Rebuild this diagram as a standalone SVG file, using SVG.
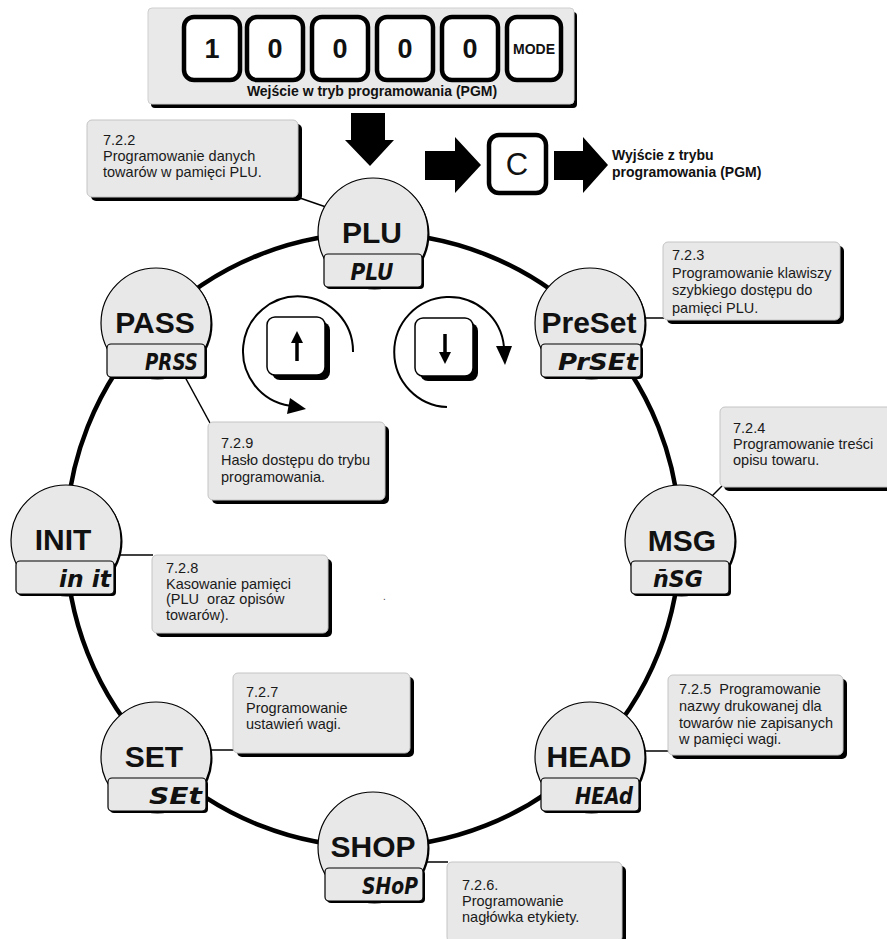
<svg xmlns="http://www.w3.org/2000/svg" width="887" height="939" viewBox="0 0 887 939">
<style>
.box{fill:#e8e8e8;stroke:#c4c4c4;stroke-width:1}
.sh{fill:#000}
.t{font-family:"Liberation Sans",Arial,sans-serif;font-size:14.5px;fill:#1a1a1a;white-space:pre}
.lbl{font-family:"Liberation Sans",Arial,sans-serif;font-weight:bold;font-size:30px;text-anchor:middle;fill:#111}
.disp{font-family:"DejaVu Sans",sans-serif;font-style:oblique;font-weight:bold;font-size:23px;fill:#111}
.nc{fill:#e8e8e8;stroke:#000;stroke-width:1.2}
.db{fill:#e8e8e8;stroke:#000;stroke-width:1.2}
.lead{stroke:#000;stroke-width:1.5;fill:none}
.key{fill:#fff;stroke:#000;stroke-width:4.5}
.kt{font-family:"Liberation Sans",Arial,sans-serif;font-weight:bold;font-size:27px;text-anchor:middle;fill:#111}
.bt{font-family:"Liberation Sans",Arial,sans-serif;font-weight:bold;font-size:14px;fill:#111}
.arc{fill:none;stroke:#000;stroke-width:2}
</style>

<!-- entry banner -->
<g id="entry">
  <rect x="151" y="12" width="426" height="96" rx="4" class="sh"/>
  <rect x="148" y="8" width="426" height="96" rx="4" fill="#e9e9e9" stroke="#cfcfcf"/>
  <rect x="184" y="17" width="56" height="63" rx="10" class="key"/>
  <rect x="247" y="17" width="56" height="63" rx="10" class="key"/>
  <rect x="312" y="17" width="56" height="63" rx="10" class="key"/>
  <rect x="377" y="17" width="56" height="63" rx="10" class="key"/>
  <rect x="442" y="17" width="56" height="63" rx="10" class="key"/>
  <rect x="507" y="17" width="54" height="63" rx="10" class="key"/>
  <text class="kt" x="212" y="58">1</text>
  <text class="kt" x="275" y="58">0</text>
  <text class="kt" x="340" y="58">0</text>
  <text class="kt" x="405" y="58">0</text>
  <text class="kt" x="470" y="58">0</text>
  <text class="kt" x="534" y="54" style="font-size:14px">MODE</text>
  <text class="bt" x="372" y="96" text-anchor="middle">Wejście w tryb programowania (PGM)</text>
</g>

<!-- entry / exit arrows -->
<g id="arrows">
  <polygon points="351,113 385,113 385,140 394,140 370,166 345,140 351,140" fill="#000"/>
  <polygon points="425,151 455,151 455,137 481,165 455,193 455,180 425,180" fill="#000"/>
  <polygon points="554,151 583,151 583,137 608,165 583,193 583,180 554,180" fill="#000"/>
</g>

<g id="exit">
  <rect x="489" y="135" width="57" height="58" rx="10" class="key"/>
  <text x="517" y="175" text-anchor="middle" style="font-family:'Liberation Sans',Arial,sans-serif;font-size:31px;fill:#111">C</text>
  <text class="bt" x="612" y="160">Wyjście z trybu</text>
  <text class="bt" x="612" y="177">programowania (PGM)</text>
</g>

<!-- connectors -->
<g id="connectors">
  <circle cx="373" cy="540" r="307" fill="none" stroke="#000" stroke-width="4.5"/>
  <line class="lead" x1="297" y1="197" x2="326" y2="207"/>
  <line class="lead" x1="644" y1="318" x2="664" y2="318"/>
  <line class="lead" x1="723" y1="485" x2="711" y2="497"/>
  <line class="lead" x1="644" y1="751" x2="669" y2="751"/>
  <line class="lead" x1="426" y1="862" x2="448" y2="862"/>
  <line class="lead" x1="210" y1="750" x2="234" y2="750"/>
  <line class="lead" x1="118" y1="555" x2="153" y2="555"/>
  <line class="lead" x1="185" y1="377" x2="210" y2="423"/>
</g>

<!-- rotation keys -->
<g id="key-up">
  <rect x="272" y="322" width="58" height="58" rx="8" class="sh"/>
  <rect x="267" y="317" width="58" height="58" rx="8" fill="#fff" stroke="#000" stroke-width="1.5"/>
  <line x1="297" y1="361" x2="297" y2="341" stroke="#000" stroke-width="3.5"/>
  <polygon points="297,331 291,343 303,343" fill="#000"/>
  <path class="arc" d="M 353 352 A 55 55 0 1 0 289.9 405.7"/>
  <polygon points="306,409 290,398 287,414" fill="#000"/>
</g>
<g id="key-down">
  <rect x="420" y="323" width="58" height="58" rx="8" class="sh"/>
  <rect x="415" y="318" width="58" height="58" rx="8" fill="#fff" stroke="#000" stroke-width="1.5"/>
  <line x1="445" y1="334" x2="445" y2="354" stroke="#000" stroke-width="3.5"/>
  <polygon points="445,364 439,352 451,352" fill="#000"/>
  <path class="arc" d="M 447 407 A 55 55 0 1 1 504 347"/>
  <polygon points="505,365 496,346 512,346" fill="#000"/>
</g>

<!-- nodes -->
<g id="node-plu">
  <circle cx="374.5" cy="234.5" r="55" class="sh"/>
  <circle cx="373" cy="233" r="55" class="nc"/>
  <text class="lbl" x="372" y="243">PLU</text>
  <rect x="326" y="256" width="98" height="33" rx="4" class="sh"/>
  <rect x="324" y="254" width="98" height="33" rx="4" class="db"/>
  <text class="disp" x="372" y="280" text-anchor="middle" textLength="43" lengthAdjust="spacingAndGlyphs">PLU</text>
</g>
<g id="node-preset">
  <circle cx="591.5" cy="324.5" r="55" class="sh"/>
  <circle cx="590" cy="323" r="55" class="nc"/>
  <text class="lbl" x="589" y="333">PreSet</text>
  <rect x="543" y="346" width="100" height="33" rx="4" class="sh"/>
  <rect x="541" y="344" width="100" height="33" rx="4" class="db"/>
  <text class="disp" x="638" y="370" text-anchor="end" textLength="80" lengthAdjust="spacingAndGlyphs">PrSEt</text>
</g>
<g id="node-msg">
  <circle cx="681.5" cy="541.5" r="55" class="sh"/>
  <circle cx="680" cy="540" r="55" class="nc"/>
  <text class="lbl" x="682" y="551">MSG</text>
  <rect x="633" y="563" width="98" height="33" rx="4" class="sh"/>
  <rect x="631" y="561" width="98" height="33" rx="4" class="db"/>
  <text class="disp" x="678" y="587" text-anchor="middle" textLength="50" lengthAdjust="spacingAndGlyphs">n̄SG</text>
</g>
<g id="node-head">
  <circle cx="591.5" cy="758.5" r="55" class="sh"/>
  <circle cx="590" cy="757" r="55" class="nc"/>
  <text class="lbl" x="589" y="767">HEAD</text>
  <rect x="543" y="780" width="98" height="33" rx="4" class="sh"/>
  <rect x="541" y="778" width="98" height="33" rx="4" class="db"/>
  <text class="disp" x="633" y="804" text-anchor="end" textLength="58" lengthAdjust="spacingAndGlyphs">HEAd</text>
</g>
<g id="node-shop">
  <circle cx="374.5" cy="848.5" r="55" class="sh"/>
  <circle cx="373" cy="847" r="55" class="nc"/>
  <text class="lbl" x="373" y="857">SHOP</text>
  <rect x="327" y="870" width="98" height="33" rx="4" class="sh"/>
  <rect x="325" y="868" width="98" height="33" rx="4" class="db"/>
  <text class="disp" x="418" y="894" text-anchor="end" textLength="56" lengthAdjust="spacingAndGlyphs">SHoP</text>
</g>
<g id="node-set">
  <circle cx="157.5" cy="758.5" r="55" class="sh"/>
  <circle cx="156" cy="757" r="55" class="nc"/>
  <text class="lbl" x="154" y="767">SET</text>
  <rect x="110" y="780" width="98" height="33" rx="4" class="sh"/>
  <rect x="108" y="778" width="98" height="33" rx="4" class="db"/>
  <text class="disp" x="202" y="804" text-anchor="end" textLength="53" lengthAdjust="spacingAndGlyphs">SEt</text>
</g>
<g id="node-init">
  <circle cx="67.5" cy="541.5" r="55" class="sh"/>
  <circle cx="66" cy="540" r="55" class="nc"/>
  <text class="lbl" x="63" y="550">INIT</text>
  <rect x="18" y="563" width="98" height="33" rx="4" class="sh"/>
  <rect x="16" y="561" width="98" height="33" rx="4" class="db"/>
  <text class="disp" x="111" y="587" text-anchor="end" textLength="52" lengthAdjust="spacingAndGlyphs">in it</text>
</g>
<g id="node-pass">
  <circle cx="157.5" cy="324.5" r="55" class="sh"/>
  <circle cx="156" cy="323" r="55" class="nc"/>
  <text class="lbl" x="155" y="333">PASS</text>
  <rect x="109" y="346" width="98" height="33" rx="4" class="sh"/>
  <rect x="107" y="344" width="98" height="33" rx="4" class="db"/>
  <text class="disp" x="198" y="370" text-anchor="end" textLength="53" lengthAdjust="spacingAndGlyphs">PRSS</text>
</g>

<!-- callouts -->
<g id="note-722">
  <rect x="91" y="124" width="211" height="77" rx="5" class="sh"/>
  <rect x="87" y="120" width="211" height="77" rx="5" class="box"/>
  <text class="t" x="103" y="145">7.2.2</text>
  <text class="t" x="103" y="161">Programowanie danych</text>
  <text class="t" x="103" y="177">towarów w pamięci PLU.</text>
</g>
<g id="note-723">
  <rect x="667" y="246" width="177" height="78" rx="5" class="sh"/>
  <rect x="663" y="242" width="177" height="78" rx="5" class="box"/>
  <text class="t" x="672" y="260">7.2.3</text>
  <text class="t" x="672" y="277.5">Programowanie klawiszy</text>
  <text class="t" x="672" y="295">szybkiego dostępu do</text>
  <text class="t" x="672" y="312.5">pamięci PLU.</text>
</g>
<g id="note-724">
  <rect x="724" y="411" width="180" height="80" rx="5" class="sh"/>
  <rect x="720" y="407" width="180" height="80" rx="5" class="box"/>
  <text class="t" x="733" y="433">7.2.4</text>
  <text class="t" x="733" y="449">Programowanie treści</text>
  <text class="t" x="733" y="465">opisu towaru.</text>
</g>
<g id="note-725">
  <rect x="672" y="679" width="175" height="80" rx="5" class="sh"/>
  <rect x="668" y="675" width="175" height="80" rx="5" class="box"/>
  <text class="t" x="679" y="694">7.2.5  Programowanie</text>
  <text class="t" x="679" y="711">nazwy drukowanej dla</text>
  <text class="t" x="679" y="728">towarów nie zapisanych</text>
  <text class="t" x="679" y="744">w pamięci wagi.</text>
</g>
<g id="note-726">
  <rect x="451" y="866" width="175" height="80" rx="5" class="sh"/>
  <rect x="447" y="862" width="175" height="80" rx="5" class="box"/>
  <text class="t" x="462" y="890">7.2.6.</text>
  <text class="t" x="462" y="906">Programowanie</text>
  <text class="t" x="462" y="922">nagłówka etykiety.</text>
</g>
<g id="note-727">
  <rect x="237" y="677" width="177" height="80" rx="5" class="sh"/>
  <rect x="233" y="673" width="177" height="80" rx="5" class="box"/>
  <text class="t" x="246" y="697">7.2.7</text>
  <text class="t" x="246" y="713">Programowanie</text>
  <text class="t" x="246" y="729">ustawień wagi.</text>
</g>
<g id="note-728">
  <rect x="156" y="559" width="176" height="78" rx="5" class="sh"/>
  <rect x="152" y="555" width="176" height="78" rx="5" class="box"/>
  <text class="t" x="166" y="573">7.2.8</text>
  <text class="t" x="166" y="589">Kasowanie pamięci</text>
  <text class="t" x="166" y="604">(PLU  oraz opisów</text>
  <text class="t" x="166" y="620">towarów).</text>
</g>
<g id="note-729">
  <rect x="212" y="426" width="177" height="78" rx="5" class="sh"/>
  <rect x="208" y="422" width="177" height="78" rx="5" class="box"/>
  <text class="t" x="221" y="448">7.2.9</text>
  <text class="t" x="221" y="465">Hasło dostępu do trybu</text>
  <text class="t" x="221" y="482">programowania.</text>
</g>

<text x="383" y="600" style="font-family:'Liberation Sans',Arial,sans-serif;font-size:10px;fill:#444">.</text>
</svg>
